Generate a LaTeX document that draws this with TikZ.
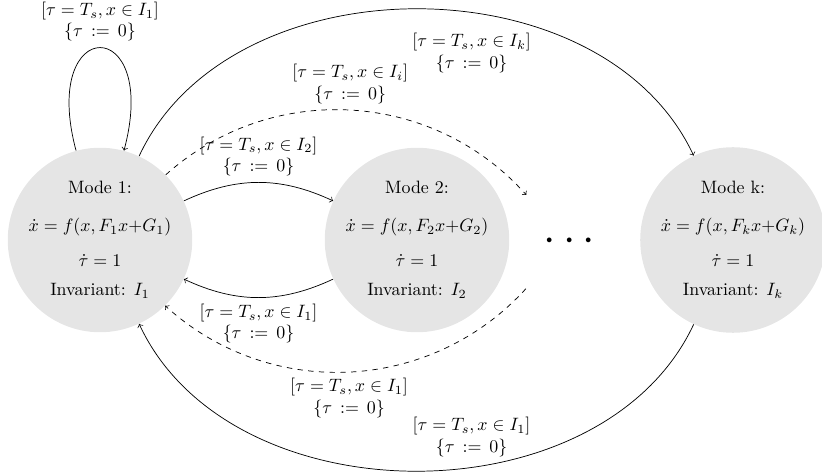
\documentclass[tikz,border=0pt]{standalone}
\usepackage{amsmath}
\begin{document}
\begin{tikzpicture}[x=0.5587pt,y=0.5587pt,
  mode/.style={circle,fill=gray!20,draw=none,minimum size=99.5pt,inner sep=0pt,align=center},
  dotsnode/.style={circle,draw=none,minimum size=73.7pt,inner sep=0pt},
  lbl/.style={align=center},
  tr/.style={->},
  dtr/.style={->,dashed}]
\useasboundingbox (0,0) rectangle (822,473);

\node[mode] (m1) at (100,233) {Mode 1:\\[9.1pt] $\dot{x}=f(x,F_1x{+}G_1)$\\[7.6pt] $\dot{\tau}=1$\\[4.2pt] Invariant: $I_1$};
\node[mode] (m2) at (417,233) {Mode 2:\\[9.1pt] $\dot{x}=f(x,F_2x{+}G_2)$\\[7.6pt] $\dot{\tau}=1$\\[4.2pt] Invariant: $I_2$};
\node[mode] (mk) at (733,233) {Mode k:\\[9.1pt] $\dot{x}=f(x,F_kx{+}G_k)$\\[7.6pt] $\dot{\tau}=1$\\[4.2pt] Invariant: $I_k$};
\node[dotsnode] (dots) at (573,231) {\Huge$\cdots$};

\draw[tr] (m1) to[loop above,looseness=7.6] node[lbl,above] {$[\tau = T_s, x\in I_1]$\\$\{\tau\,:=\,0\}$} (m1);
\draw[tr] (m1) to[bend left=25] node[lbl,above] {$[\tau = T_s, x\in I_2]$\\$\{\tau\,:=\,0\}$} (m2);
\draw[tr] (m2) to[bend left=25] node[lbl,below] {$[\tau = T_s, x\in I_1]$\\$\{\tau\,:=\,0\}$} (m1);
\draw[dtr] (m1) to[bend left=45] node[lbl,above] {$[\tau = T_s, x\in I_i]$\\$\{\tau\,:=\,0\}$} (dots);
\draw[dtr] (dots) to[bend left=45] node[lbl,below] {$[\tau = T_s, x\in I_1]$\\$\{\tau\,:=\,0\}$} (m1);
\draw[tr] (m1) to[bend left=65] node[lbl,pos=0.58,below=8pt] {$[\tau = T_s, x\in I_k]$\\$\{\tau\,:=\,0\}$} (mk);
\draw[tr] (mk) to[bend left=65] node[lbl,pos=0.42,above=2.5pt] {$[\tau = T_s, x\in I_1]$\\$\{\tau\,:=\,0\}$} (m1);
\end{tikzpicture}
\end{document}
